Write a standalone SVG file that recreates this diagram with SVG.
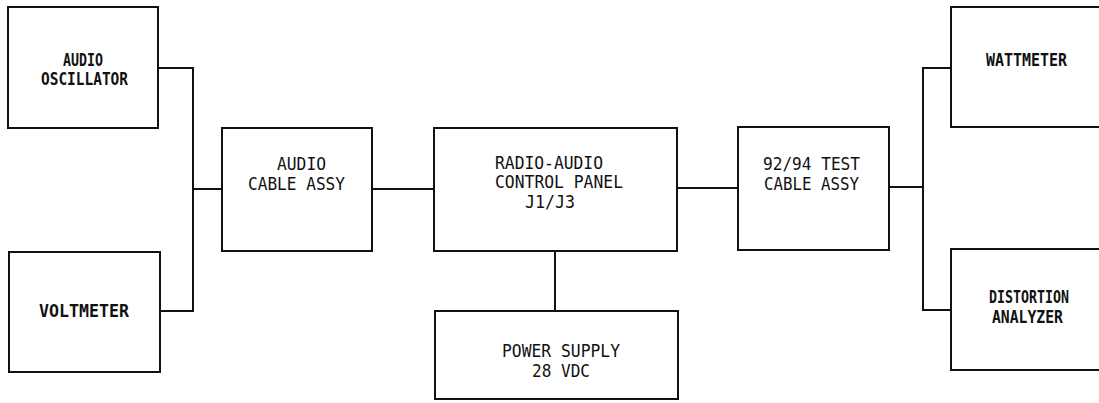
<svg xmlns="http://www.w3.org/2000/svg" width="1099" height="403" viewBox="0 0 1099 403">
<style>
.box{fill:#fff;stroke:#111;stroke-width:2}
.ln{fill:none;stroke:#111;stroke-width:2}
text{font-family:"DejaVu Sans Mono","Liberation Mono",monospace;font-size:18.5px;fill:#111}
.b{font-weight:bold}
</style>
<rect width="1099" height="403" fill="#fff"/>
<g id="connectors">
<polyline class="ln" points="158,68 193,68 193,311 160,311"/>
<line class="ln" x1="193" y1="189" x2="222" y2="189"/>
<line class="ln" x1="372" y1="189" x2="434" y2="189"/>
<line class="ln" x1="677" y1="188" x2="738" y2="188"/>
<line class="ln" x1="555" y1="251" x2="555" y2="311"/>
<line class="ln" x1="889" y1="187" x2="923" y2="187"/>
<polyline class="ln" points="951,68 923,68 923,310 951,310"/>
</g>
<g id="audio-oscillator">
<rect class="box" x="8" y="7" width="150" height="121"/>
<text class="b" x="63" y="66" textLength="40" lengthAdjust="spacingAndGlyphs">AUDIO</text>
<text class="b" x="41" y="85" textLength="87" lengthAdjust="spacingAndGlyphs">OSCILLATOR</text>
</g>
<g id="voltmeter">
<rect class="box" x="9" y="252" width="151" height="120"/>
<text class="b" x="39" y="317" textLength="90" lengthAdjust="spacingAndGlyphs">VOLTMETER</text>
</g>
<g id="audio-cable-assy">
<rect class="box" x="222" y="128" width="150" height="123"/>
<text x="277" y="170" textLength="49" lengthAdjust="spacingAndGlyphs">AUDIO</text>
<text x="248" y="190" textLength="97" lengthAdjust="spacingAndGlyphs">CABLE ASSY</text>
</g>
<g id="radio-audio-control-panel">
<rect class="box" x="434" y="128" width="243" height="123"/>
<text x="495" y="169" textLength="108" lengthAdjust="spacingAndGlyphs">RADIO-AUDIO</text>
<text x="495" y="188" textLength="128" lengthAdjust="spacingAndGlyphs">CONTROL PANEL</text>
<text x="525" y="208" textLength="50" lengthAdjust="spacingAndGlyphs">J1/J3</text>
</g>
<g id="power-supply">
<rect class="box" x="435" y="311" width="243" height="88"/>
<text x="502" y="357" textLength="118" lengthAdjust="spacingAndGlyphs">POWER SUPPLY</text>
<text x="532" y="377" textLength="58" lengthAdjust="spacingAndGlyphs">28 VDC</text>
</g>
<g id="test-cable-assy">
<rect class="box" x="738" y="127" width="151" height="123"/>
<text x="763" y="170" textLength="97" lengthAdjust="spacingAndGlyphs">92/94 TEST</text>
<text x="764" y="190" textLength="95" lengthAdjust="spacingAndGlyphs">CABLE ASSY</text>
</g>
<g id="wattmeter">
<rect class="box" x="951" y="7" width="170" height="120"/>
<text class="b" x="986" y="66" textLength="81" lengthAdjust="spacingAndGlyphs">WATTMETER</text>
</g>
<g id="distortion-analyzer">
<rect class="box" x="951" y="249" width="170" height="121"/>
<text class="b" x="989" y="303" textLength="80" lengthAdjust="spacingAndGlyphs">DISTORTION</text>
<text class="b" x="992" y="323" textLength="71" lengthAdjust="spacingAndGlyphs">ANALYZER</text>
</g>
</svg>
